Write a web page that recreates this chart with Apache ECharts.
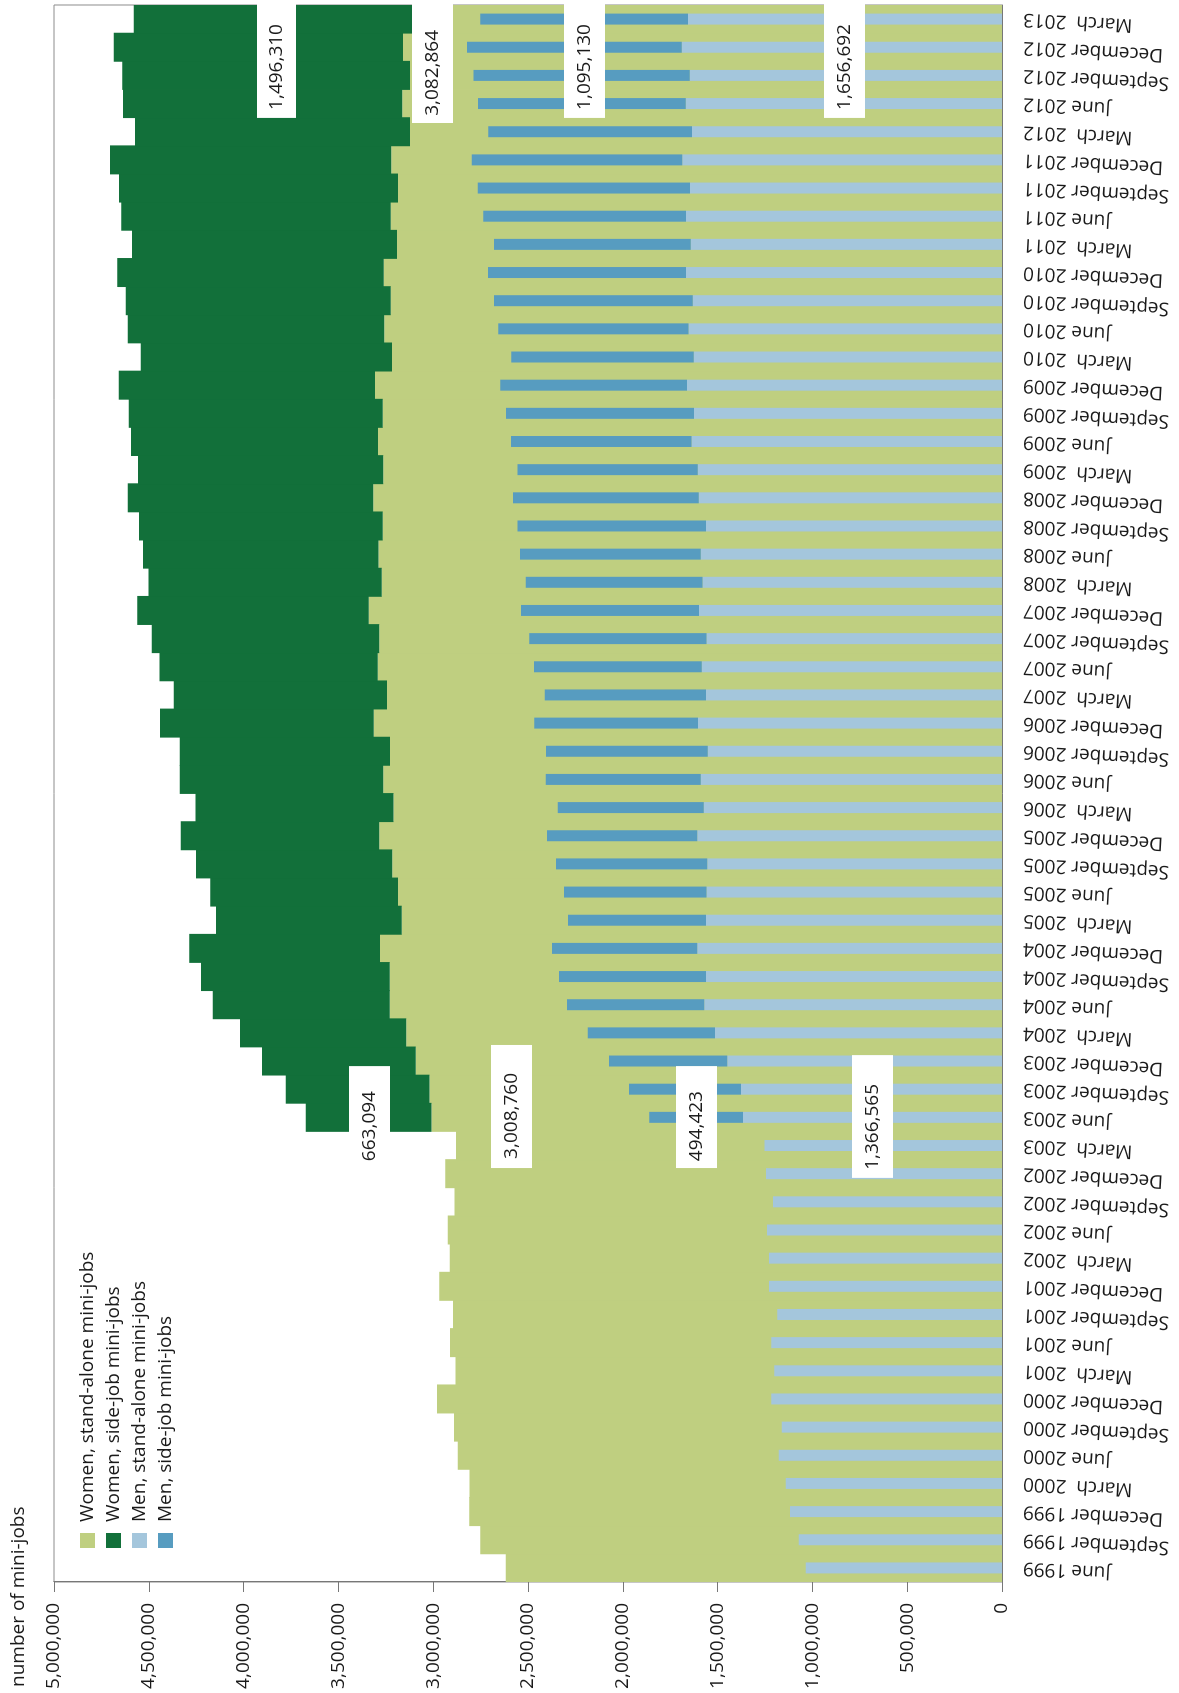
<!DOCTYPE html>
<html><head><meta charset="utf-8">
<script src="https://cdn.jsdelivr.net/npm/echarts@6.0.0/dist/echarts.min.js"></script>
<style>
html,body{margin:0;padding:0;background:#fff;overflow:hidden;width:1179px;height:1693px}
#wrap{position:absolute;left:0;top:0;width:1693px;height:1179px;transform-origin:0 0;transform:translate(0,1693px) rotate(-90deg)}
#chart{width:1693px;height:1179px}
</style></head><body>
<div id="wrap"><div id="chart"></div></div>
<script>
const categories = [
 "June 1999","September 1999","December 1999",
 "March  2000","June 2000","September 2000","December 2000",
 "March  2001","June 2001","September 2001","December 2001",
 "March  2002","June 2002","September 2002","December 2002",
 "March  2003","June 2003","September 2003","December 2003",
 "March  2004","June 2004","September 2004","December 2004",
 "March  2005","June 2005","September 2005","December 2005",
 "March  2006","June 2006","September 2006","December 2006",
 "March  2007","June 2007","September 2007","December 2007",
 "March  2008","June 2008","September 2008","December 2008",
 "March  2009","June 2009","September 2009","December 2009",
 "March  2010","June 2010","September 2010","December 2010",
 "March  2011","June 2011","September 2011","December 2011",
 "March  2012","June 2012","September 2012","December 2012",
 "March  2013"
];

const womenStandAlone = [
 2618000, 2752000, 2810000, 2808000, 2871000, 2890000, 2980000, 2883000, 2911000, 2896000, 2968000, 2913000, 2923000, 2888000, 2936000, 2880000,
 3008760, 3020000, 3092000, 3142000, 3229000, 3229000, 3280000, 3166000, 3186000, 3216000, 3284000, 3210000, 3263000, 3228000, 3314000, 3244000,
 3293000, 3284000, 3340000, 3271000, 3289000, 3266000, 3316000, 3263000, 3291000, 3266000, 3307000, 3217000, 3258000, 3224000, 3261000, 3191000,
 3224000, 3186000, 3221000, 3122000, 3163000, 3122000, 3159000, 3082864
];

const womenSideJob = [
 null, null, null, null, null, null, null, null, null, null, null, null, null, null, null, null,
 663094, 758000, 811000, 877000, 934000, 996000, 1006000, 980000, 990000, 1035000, 1048000, 1044000, 1074000, 1109000, 1127000, 1125000,
 1150000, 1201000, 1221000, 1230000, 1242000, 1286000, 1295000, 1294000, 1303000, 1340000, 1352000, 1326000, 1353000, 1398000, 1405000, 1398000,
 1421000, 1471000, 1484000, 1451000, 1473000, 1518000, 1526000, 1496310
];

const menStandAlone = [
 1035000, 1072000, 1118000, 1141000, 1178000, 1162000, 1217000, 1201000, 1217000, 1185000, 1229000, 1229000, 1239000, 1208000, 1245000, 1252000,
 1366565, 1377000, 1449000, 1514000, 1570000, 1561000, 1607000, 1561000, 1559000, 1554000, 1607000, 1573000, 1589000, 1552000, 1603000, 1561000,
 1584000, 1558000, 1598000, 1579000, 1589000, 1561000, 1600000, 1605000, 1637000, 1624000, 1661000, 1626000, 1654000, 1631000, 1667000, 1642000,
 1667000, 1646000, 1686000, 1635000, 1668000, 1647000, 1689000, 1656692
];

const menSideJob = [
 null, null, null, null, null, null, null, null, null, null, null, null, null, null, null, null,
 494423, 590000, 624000, 671000, 724000, 775000, 766000, 728000, 751000, 798000, 793000, 770000, 818000, 853000, 864000, 851000,
 884000, 935000, 939000, 933000, 953000, 995000, 979000, 951000, 953000, 992000, 985000, 962000, 1003000, 1048000, 1044000, 1037000,
 1069000, 1119000, 1111000, 1074000, 1096000, 1141000, 1133000, 1095130
];

const seriesNames = [
 "Women, stand-alone mini-jobs",
 "Women, side-job mini-jobs",
 "Men, stand-alone mini-jobs",
 "Men, side-job mini-jobs"
];
const valueTicks = { min: 0, max: 5000000, interval: 500000 };
const axisName = "number of mini-jobs";

// annotation labels (text, box in [category index range, value range], text anchor)
const annotationTexts = ["1,496,310","3,082,864","1,095,130","1,656,692","663,094","3,008,760","494,423","1,366,565"];
const annotationPlacement = [
 {box:[51.49,56.6,3724000,3929000], at:[53.30,3826000]},
 {box:[51.31,56.6,2896000,3112000], at:[53.09,3004000]},
 {box:[51.49,56.6,2094000,2310000], at:[53.30,2202000]},
 {box:[51.49,56.6,723000,939000],   at:[53.30,831000]},
 {box:[14.10,17.82,3228000,3444000], at:[15.69,3336000]},
 {box:[14.20,18.57,2479000,2695000], at:[16.05,2587000]},
 {box:[14.20,17.82,1503000,1719000], at:[15.69,1611000]},
 {box:[13.85,18.21,575000,791000],   at:[15.66,683000]}
];

const FONT = '"Open Sans", "Noto Sans", sans-serif';
const colors = ['#BFCF80', '#12703A', '#A4C6DC', '#579CC0'];
const fmt = v => String(v).replace(/\B(?=(\d{3})+(?!\d))/g, ',');

const chart = echarts.init(document.getElementById('chart'), null, {renderer:'canvas', width:1693, height:1179});
chart.setOption({
  animation:false,
  backgroundColor:'#fff',
  textStyle:{fontFamily:FONT},
  title:{text:axisName, left:1, top:4, textStyle:{fontSize:19, fontWeight:'normal', color:'#1a1a1a', fontFamily:FONT}},
  legend:{orient:'vertical', left:140, top:73, itemWidth:15, itemHeight:15, itemGap:7, icon:'rect',
    textStyle:{fontSize:19, color:'#1a1a1a', padding:[0,0,0,6], fontFamily:FONT}, data:seriesNames},
  grid:{left:111, right:5, top:54, bottom:177, show:true, borderColor:'#8c8c8c', borderWidth:1},
  xAxis:[
    {type:'category', data:categories, boundaryGap:true,
     axisLine:{lineStyle:{color:'#777'}},
     axisTick:{length:8, interval:0, lineStyle:{color:'#777'}},
     axisLabel:{interval:0, rotate:87, margin:21, fontSize:19, color:'#1a1a1a', fontFamily:FONT}},
    {type:'category', data:categories, show:false}
  ],
  yAxis:{type:'value', min:valueTicks.min, max:valueTicks.max, interval:valueTicks.interval,
    splitLine:{show:false},
    axisLine:{show:true, lineStyle:{color:'#777'}},
    axisTick:{show:true, length:10, lineStyle:{color:'#777'}},
    axisLabel:{formatter:fmt, fontSize:19, margin:21, color:'#1a1a1a', fontFamily:FONT}},
  series:[
    {name:seriesNames[0], type:'bar', stack:'women', xAxisIndex:0, data:womenStandAlone, barWidth:'103%',
     itemStyle:{color:colors[0]}},
    {name:seriesNames[1], type:'bar', stack:'women', xAxisIndex:0, data:womenSideJob, barWidth:'103%',
     itemStyle:{color:colors[1]}},
    {name:seriesNames[2], type:'bar', stack:'men', xAxisIndex:1, data:menStandAlone, barWidth:'39%',
     itemStyle:{color:colors[2]}},
    {name:seriesNames[3], type:'bar', stack:'men', xAxisIndex:1, data:menSideJob, barWidth:'39%',
     itemStyle:{color:colors[3]}}
  ]
});

const o = chart.convertToPixel({seriesIndex:0}, [0, 0]);
const u = chart.convertToPixel({seriesIndex:0}, [1, 1000000]);
const dx = u[0] - o[0], dy = (u[1] - o[1]) / 1000000;
const P = (c, v) => [o[0] + c * dx, o[1] + v * dy];
const graphics = [];
annotationTexts.forEach((t, k) => {
  const a = annotationPlacement[k];
  const p0 = P(a.box[0], a.box[3]);
  const p1 = P(a.box[1], a.box[2]);
  graphics.push({type:'rect', z:100, shape:{x:p0[0], y:p0[1], width:p1[0]-p0[0], height:p1[1]-p0[1]}, style:{fill:'#fff'}});
  const pt = P(a.at[0], a.at[1]);
  graphics.push({type:'text', z:101, x:pt[0], y:pt[1], style:{text:t, fill:'#1a1a1a', fontSize:19, fontFamily:FONT, align:'center', verticalAlign:'middle'}});
});
chart.setOption({graphic:graphics});
</script>
</body></html>
